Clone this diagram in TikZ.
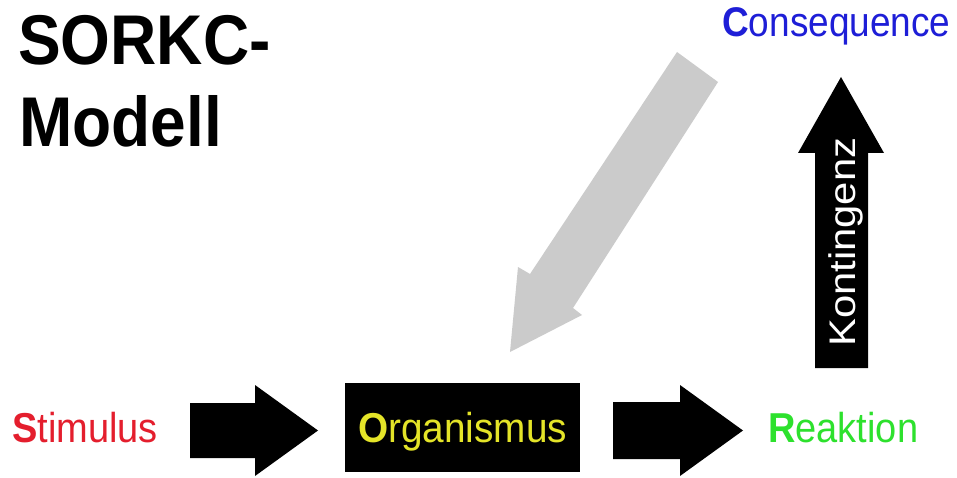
\documentclass[tikz,border=0pt]{standalone}
\usepackage{fontspec}
\setmainfont{Liberation Sans}
\usepackage{graphicx}
\definecolor{sred}{RGB}{228,30,45}
\definecolor{cblue}{RGB}{30,30,215}
\definecolor{oyellow}{RGB}{228,228,40}
\definecolor{rgreen}{RGB}{45,225,45}
\definecolor{agray}{RGB}{203,203,203}
\newcommand{\vstretch}[1]{\scalebox{1}[1.1]{#1}}
\tikzset{
  lbl/.style={anchor=base west, inner sep=0pt, font=\fontsize{38}{40}\selectfont},
  ttl/.style={anchor=base west, inner sep=0pt, font=\fontsize{64}{70}\selectfont\bfseries},
  blockarrow/.style={fill=black},
  grayarrow/.style={fill=agray},
}
\begin{document}
\begin{tikzpicture}[x=1pt,y=-1pt]
\useasboundingbox[fill=white] (0,0) rectangle (957,478);
% title
\node[ttl] (t1) at (18,65) {\scalebox{1}[1.1]{SORKC-}};
\node[ttl] (t2) at (19,147) {\scalebox{1}[1.1]{Modell}};
% labels
\node[lbl, text=sred] (stim) at (12,442) {\vstretch{\textbf{S}timulus}};
\node[fill=black, anchor=north west, minimum width=235pt, minimum height=89pt, inner sep=0pt] (org) at (345,383) {};
\node[lbl, text=oyellow] (orgt) at (358,442) {\scalebox{1.02}[1.1]{\textbf{O}rganismus}};
\node[lbl, text=rgreen] (reak) at (768,442) {\vstretch{\textbf{R}eaktion}};
\node[lbl, text=cblue, font=\fontsize{37}{40}\selectfont] (cons) at (722,37) {\scalebox{1}[1.12]{\textbf{C}onsequence}};
% black arrow S -> O
\fill[blockarrow] (190,403) -- (255,403) -- (255,385) -- (318,430.5) -- (255,476) -- (255,458) -- (190,458) -- cycle;
% black arrow O -> R
\fill[blockarrow] (613,402) -- (680,402) -- (680,385) -- (743,430.5) -- (680,476) -- (680,459) -- (613,459) -- cycle;
% Kontingenz arrow
\fill[blockarrow] (815,368) -- (815,153) -- (798,153) -- (841,77) -- (884,153) -- (868,153) -- (868,368) -- cycle;
\node[anchor=base west, inner sep=0pt, rotate=90, text=white, font=\fontsize{37}{40}\selectfont] (kont) at (855,347) {\scalebox{1.13}[1]{Kontingenz}};
% gray arrow C -> O
\fill[grayarrow] (677,52) -- (718,82) -- (573,308) -- (582,315) -- (510,352) -- (518,267) -- (530,274) -- cycle;
\end{tikzpicture}
\end{document}
